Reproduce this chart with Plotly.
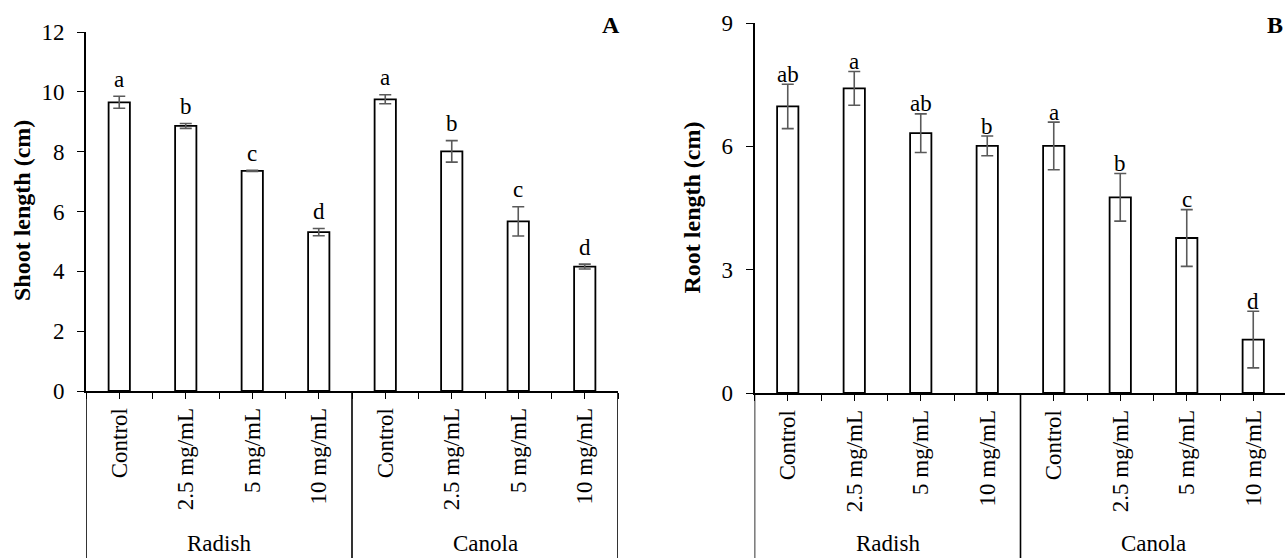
import plotly.graph_objects as go

# ---------------- data ----------------
treatments = ["Control", "2.5 mg/mL", "5 mg/mL", "10 mg/mL"]
groups = ["Radish", "Canola"]

shoot_mean = [9.65, 8.86, 7.36, 5.31, 9.75, 8.01, 5.67, 4.16]
shoot_err = [0.20, 0.08, 0.02, 0.12, 0.15, 0.36, 0.49, 0.08]
shoot_letters = ["a", "b", "c", "d", "a", "b", "c", "d"]

root_mean = [6.97, 7.41, 6.32, 6.01, 6.01, 4.76, 3.77, 1.30]
root_err = [0.54, 0.41, 0.47, 0.24, 0.58, 0.58, 0.69, 0.69]
root_letters = ["ab", "a", "ab", "b", "a", "b", "c", "d"]

# ---------------- layout constants ----------------
W, H = 1285, 558
FONT = "Liberation Serif"
FS = 23
n = len(treatments) * len(groups)
xpos = list(range(n))
ticktext = treatments * len(groups)
boundaries = [i - 0.5 for i in range(n + 1)]


def px_x(p):
    return p / W


def px_y(p):
    return (H - p) / H


# left panel pixel geometry
L_x0, L_x1 = 86, 618
L_y0, L_ytop = 391, 32
# right panel pixel geometry
R_x0 = 754.5
R_y0, R_ytop = 393, 23
cat_w = (L_x1 - L_x0) / n
R_span = (W - R_x0) / cat_w

fig = go.Figure()

fig.add_trace(go.Bar(
    x=xpos, y=shoot_mean, width=0.32,
    marker=dict(color="white", line=dict(color="black", width=1.8)),
    error_y=dict(type="data", array=shoot_err, color="#5a5a5a", thickness=1.6, width=6),
    xaxis="x", yaxis="y", showlegend=False,
))
fig.add_trace(go.Bar(
    x=xpos, y=root_mean, width=0.32,
    marker=dict(color="white", line=dict(color="black", width=1.8)),
    error_y=dict(type="data", array=root_err, color="#5a5a5a", thickness=1.6, width=6),
    xaxis="x2", yaxis="y2", showlegend=False,
))

annotations = []
# significance letters
for i in range(n):
    annotations.append(dict(
        x=xpos[i], y=shoot_mean[i] + shoot_err[i], xref="x", yref="y",
        text=shoot_letters[i], showarrow=False, yanchor="middle", yshift=17,
        font=dict(family=FONT, size=FS, color="black")))
    annotations.append(dict(
        x=xpos[i], y=root_mean[i] + root_err[i], xref="x2", yref="y2",
        text=root_letters[i], showarrow=False, yanchor="middle", yshift=10,
        font=dict(family=FONT, size=FS, color="black")))

# group labels
for xr in ["x", "x2"]:
    for g, name in enumerate(groups):
        annotations.append(dict(
            x=g * len(treatments) + (len(treatments) - 1) / 2, y=px_y(543),
            xref=xr, yref="paper", text=name, showarrow=False,
            yanchor="middle", font=dict(family=FONT, size=FS, color="black")))

# axis titles
annotations.append(dict(x=px_x(22), y=px_y(211), xref="paper", yref="paper",
                        text="<b>Shoot length (cm)</b>", textangle=-90, showarrow=False,
                        xanchor="center", yanchor="middle",
                        font=dict(family=FONT, size=24, color="black")))
annotations.append(dict(x=px_x(R_x0 - 63), y=px_y(208), xref="paper", yref="paper",
                        text="<b>Root length (cm)</b>", textangle=-90, showarrow=False,
                        xanchor="center", yanchor="middle",
                        font=dict(family=FONT, size=24, color="black")))
# panel letters
annotations.append(dict(x=px_x(600), y=px_y(25), xref="paper", yref="paper",
                        text="<b>A</b>", showarrow=False, xanchor="left", yanchor="middle",
                        font=dict(family=FONT, size=24, color="black")))
annotations.append(dict(x=1, y=px_y(25), xref="paper", yref="paper",
                        text="<b>B</b>", showarrow=False, xanchor="right", yanchor="middle",
                        font=dict(family=FONT, size=24, color="black")))

# vertical category separators below the axis
shapes = []
for xr, yfrac, bl in [("x", px_y(L_y0), boundaries), ("x2", px_y(R_y0), boundaries[:-1])]:
    for b in [bl[0], bl[len(treatments)]] + ([bl[-1]] if xr == "x" else []):
        shapes.append(dict(type="line", xref=xr, yref="paper", x0=b, x1=b,
                           y0=0, y1=yfrac, line=dict(color="black", width=1.6)))

xcommon = dict(
    tickmode="array", tickvals=xpos, ticktext=ticktext, tickangle=-90,
    ticks="outside", ticklen=6, tickwidth=1.3, tickcolor="black",
    minor=dict(tickvals=boundaries, ticks="outside", ticklen=6, tickwidth=1.3, tickcolor="black"),
    showline=True, linecolor="black", linewidth=1.6, showgrid=False, zeroline=False,
    tickfont=dict(family=FONT, size=FS, color="black"), automargin=False, fixedrange=True,
)
ycommon = dict(
    ticks="outside", ticklen=7, tickwidth=1.3, tickcolor="black", ticklabelstandoff=8,
    showline=True, linecolor="black", linewidth=1.6, showgrid=False, zeroline=False,
    tickfont=dict(family=FONT, size=FS, color="black"), automargin=False, fixedrange=True,
)

fig.update_layout(
    width=W, height=H,
    margin=dict(l=0, r=0, t=0, b=0),
    paper_bgcolor="white", plot_bgcolor="white",
    font=dict(family=FONT, color="black"),
    xaxis=dict(domain=[px_x(L_x0), px_x(L_x1)], range=[-0.5, n - 0.5], anchor="y", **xcommon),
    yaxis=dict(domain=[px_y(L_y0), px_y(L_ytop)], range=[0, 12], dtick=2, anchor="x", **ycommon),
    xaxis2=dict(domain=[px_x(R_x0), 1], range=[-0.5, -0.5 + R_span], anchor="y2", **xcommon),
    yaxis2=dict(domain=[px_y(R_y0), px_y(R_ytop)], range=[0, 9], dtick=3, anchor="x2", **ycommon),
    annotations=annotations, shapes=shapes, showlegend=False,
)

fig.write_html("out.html")
